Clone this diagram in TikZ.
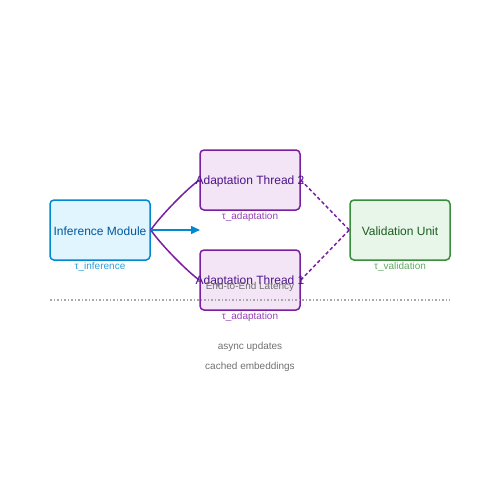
\documentclass[tikz,border=0pt]{standalone}
\usepackage{fontspec}
\setmainfont{Liberation Sans}
\usetikzlibrary{arrows.meta}
\definecolor{infFill}{HTML}{E1F5FE}
\definecolor{infLine}{HTML}{0288D1}
\definecolor{infText}{HTML}{01579B}
\definecolor{infLbl}{HTML}{2E9FDD}
\definecolor{adFill}{HTML}{F3E5F5}
\definecolor{adLine}{HTML}{7B1FA2}
\definecolor{adText}{HTML}{4A148C}
\definecolor{adLbl}{HTML}{9640B8}
\definecolor{valFill}{HTML}{E8F5E9}
\definecolor{valLine}{HTML}{388E3C}
\definecolor{valText}{HTML}{1B5E20}
\definecolor{valLbl}{HTML}{5DAA60}
\definecolor{grayTxt}{HTML}{707070}
\definecolor{dotGray}{HTML}{A8A8A8}
\begin{document}
\begin{tikzpicture}[x=1pt,y=-1pt,
  box/.style={rounded corners=4pt, line width=1.5pt, minimum width=100pt, minimum height=60pt, inner sep=0pt, font=\fontsize{12}{14}\selectfont},
  inf/.style={box, draw=infLine, fill=infFill, text=infText},
  ad/.style={box, draw=adLine, fill=adFill, text=adText},
  val/.style={box, draw=valLine, fill=valFill, text=valText},
  lbl/.style={font=\fontsize{10}{12}\selectfont, inner sep=0pt},
  conn/.style={adLine, line width=1.5pt},
  dconn/.style={adLine, line width=1.5pt, dash pattern=on 3.5pt off 2.5pt}
]
\useasboundingbox (0,0) rectangle (500,500);
\node[inf] (inf) at (100,230) {};
\node[ad] (ad2) at (250,180) {};
\node[ad] (ad1) at (250,280) {};
\node[val] (val) at (400,230) {};
\node[font=\fontsize{12}{14}\selectfont, text=infText, inner sep=0pt] (tinf) at (100,231.5) {Inference Module};
\node[font=\fontsize{12}{14}\selectfont, text=valText, inner sep=0pt] (tval) at (400,231.5) {Validation Unit};
% connectors
\coordinate (bluetip) at (200,230);
\draw[conn] (inf.east) .. controls (162,214) and (188,188) .. (ad2.west);
\draw[conn] (inf.east) .. controls (162,246) and (188,272) .. (ad1.west);
\draw[infLine, line width=1.5pt, -{Triangle[length=9pt,width=8pt]}] (inf.east) -- (bluetip);
\draw[dconn] (ad2.east) -- (val.west);
\draw[dconn] (ad1.east) -- (val.west);
% texts over boxes
\node[font=\fontsize{12}{14}\selectfont, text=adText, inner sep=0pt] (t2) at (250,181.5) {Adaptation Thread 2};
\node[font=\fontsize{12}{14}\selectfont, text=adText, inner sep=0pt] (t1) at (250,281.5) {Adaptation Thread 1};
\node[lbl, text=grayTxt] (e2e) at (250,287) {End-to-End Latency};
% separator
\coordinate (sepL) at (50,300);
\coordinate (sepR) at (450,300);
\draw[dotGray, line width=1.2pt, dash pattern=on 1.5pt off 2pt] (sepL) -- (sepR);
% labels
\node[lbl, text=infLbl] (linf) at (100,267) {τ\_inference};
\node[lbl, text=adLbl] (lad2) at (250,217) {τ\_adaptation};
\node[lbl, text=adLbl] (lad1) at (250,317) {τ\_adaptation};
\node[lbl, text=valLbl] (lval) at (400,267) {τ\_validation};
\node[lbl, text=grayTxt] (async) at (250,347) {async updates};
\node[lbl, text=grayTxt] (cached) at (250,367) {cached embeddings};
\end{tikzpicture}
\end{document}
